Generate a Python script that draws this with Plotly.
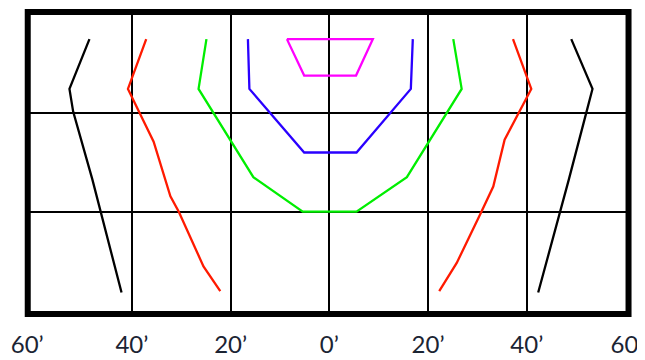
import plotly.graph_objects as go

# field curves, x in arcminutes from centre, y in arcminutes from centre
black_left_x = [-48.6, -52.65, -51.9, -48.0, -42.1]
black_left_y = [25.0, 14.9, 10.3, -3.5, -26.4]
black_right_x = [49.0, 53.3, 52.1, 48.5, 42.3]
black_right_y = [25.0, 14.9, 10.3, -3.5, -26.4]

red_left_x = [-37.1, -40.8, -35.6, -32.2, -30.5, -25.5, -22.1]
red_left_y = [25.0, 14.9, 4.2, -6.9, -10.0, -21.1, -26.1]
red_right_x = [37.2, 40.9, 35.5, 33.2, 30.8, 25.8, 22.25]
red_right_y = [25.0, 14.9, 4.6, -4.9, -10.0, -20.4, -26.1]

green_x = [-24.9, -26.5, -15.4, -5.4, 5.5, 15.7, 26.8, 25.1]
green_y = [25.0, 14.9, -3.0, -10.0, -10.0, -3.0, 14.9, 25.0]

blue_x = [-16.5, -16.2, -5.1, 5.5, 16.5, 16.9]
blue_y = [25.0, 14.9, 2.0, 2.0, 14.9, 25.0]

magenta_x = [-8.6, 8.8, 5.4, -5.1, -8.6]
magenta_y = [25.0, 25.0, 17.6, 17.6, 25.0]

tick_vals = [-61.2, -40, -20, 0, 20, 40, 60.3]
tick_text = ["60\u2019", "40\u2019", "20\u2019", "0\u2019", "20\u2019", "40\u2019", "60\u2019"]

x_range = [-61.25, 61.1]
y_range = [-30.75, 30.5]

fig = go.Figure()

curves = [
    (black_left_x, black_left_y, "black"),
    (black_right_x, black_right_y, "black"),
    (red_left_x, red_left_y, "#ff1a00"),
    (red_right_x, red_right_y, "#ff1a00"),
    (green_x, green_y, "#00ee00"),
    (blue_x, blue_y, "#2a00ff"),
    (magenta_x, magenta_y, "#ff00ff"),
]
for xs, ys, col in curves:
    fig.add_trace(go.Scatter(x=xs, y=ys, mode="lines",
                             line=dict(color=col, width=2.3),
                             showlegend=False, hoverinfo="skip"))


def to_paper(v, rng):
    return (v - rng[0]) / (rng[1] - rng[0])


# thick frame round the field (paper ref so it isn't clipped at the edge)
fig.add_shape(type="rect", xref="paper", yref="paper",
              x0=to_paper(-61.1, x_range), x1=to_paper(60.6, x_range),
              y0=to_paper(-30.75, y_range), y1=to_paper(30.5, y_range),
              line=dict(color="black", width=6), layer="above")

# page body keeps an 8px margin, so the figure is 8px smaller each way
fig.update_layout(
    width=637, height=352,
    margin=dict(l=18.5, r=13.6, t=4.1, b=45.6),
    plot_bgcolor="white", paper_bgcolor="white",
    font=dict(family="Lato, Open Sans, sans-serif", size=24, color="#1b2433"),
)
fig.update_xaxes(range=x_range, tickvals=tick_vals, ticktext=tick_text,
                 showgrid=True, gridcolor="black", gridwidth=1.5,
                 zeroline=False, showline=False, ticks="", fixedrange=True,
                 automargin=False, ticklabelstandoff=14,
                 ticklabeloverflow="allow")
fig.update_yaxes(range=y_range, tickvals=[-10, 10], showticklabels=False,
                 showgrid=True, gridcolor="black", gridwidth=1.5,
                 zeroline=False, showline=False, ticks="", fixedrange=True,
                 automargin=False)

fig.write_html("out.html", config={"displayModeBar": False})
